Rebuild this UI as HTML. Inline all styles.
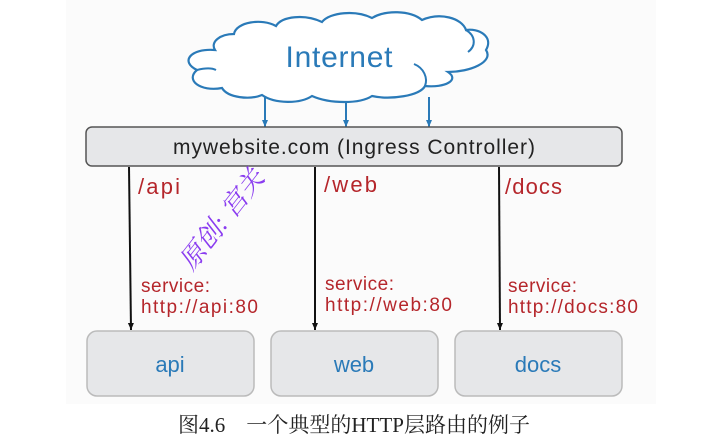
<!DOCTYPE html>
<html><head><meta charset="utf-8"><style>
html,body{margin:0;padding:0;background:#fff;}
svg{display:block;}
</style></head><body>
<svg width="709" height="444" viewBox="0 0 709 444" xmlns="http://www.w3.org/2000/svg">
<defs>
<marker id="ab" markerWidth="8" markerHeight="8" refX="7" refY="4" orient="auto" markerUnits="userSpaceOnUse"><path d="M0,1 L7,4 L0,7 Z" fill="#2a7ab8"/></marker>
<marker id="ak" markerWidth="8" markerHeight="8" refX="7" refY="4" orient="auto" markerUnits="userSpaceOnUse"><path d="M0,1 L7,4 L0,7 Z" fill="#111"/></marker>
</defs>
<rect x="66" y="0" width="590" height="404" fill="#fbfbfb"/>
<path d="M215,50 C190,48 180,62 197,70 C185,80 200,92 222,88 C228,98 250,100 262,95 C275,104 300,104 312,96 C330,104 360,104 372,96 C390,100 420,96 425,86 C445,88 460,80 448,72 C470,72 494,62 486,50 C494,36 478,28 466,30 C462,18 440,12 422,20 C410,10 385,10 372,18 C356,10 330,12 322,22 C305,14 282,16 276,26 C262,18 236,22 234,34 C220,34 210,42 215,50 Z" fill="#fff" stroke="#2a7ab8" stroke-width="2.2"/>
<path d="M466,30 C476,36 476,46 468,52" fill="none" stroke="#2a7ab8" stroke-width="2"/>
<path d="M425,86 C428,78 424,68 414,64" fill="none" stroke="#2a7ab8" stroke-width="2"/>
<path d="M197,70 C205,68 212,68 216,70" fill="none" stroke="#2a7ab8" stroke-width="2"/>
<text x="339" y="67" text-anchor="middle" font-family="Liberation Sans, sans-serif" font-size="30" fill="#2a7ab8" textLength="107">Internet</text>
<line x1="265" y1="97" x2="265" y2="127" stroke="#2a7ab8" stroke-width="2" marker-end="url(#ab)"/>
<line x1="346" y1="102" x2="346" y2="127" stroke="#2a7ab8" stroke-width="2" marker-end="url(#ab)"/>
<line x1="429" y1="97" x2="429" y2="127" stroke="#2a7ab8" stroke-width="2" marker-end="url(#ab)"/>
<rect x="86" y="127" width="536" height="39" rx="6" fill="#e6e7e9" stroke="#555" stroke-width="1.5"/>
<text x="354" y="154" text-anchor="middle" font-family="Liberation Sans, sans-serif" font-size="21" fill="#222" textLength="362">mywebsite.com (Ingress Controller)</text>
<g stroke="#111" stroke-width="2">
<line x1="129" y1="167" x2="131" y2="330" marker-end="url(#ak)"/>
<line x1="315" y1="167" x2="315" y2="330" marker-end="url(#ak)"/>
<line x1="499" y1="167" x2="500" y2="330" marker-end="url(#ak)"/>
</g>
<g font-family="Liberation Sans, sans-serif" fill="#b5262b">
<text x="138" y="194" font-size="22" textLength="42">/api</text>
<text x="324" y="192" font-size="22" textLength="53">/web</text>
<text x="505" y="194" font-size="22" textLength="57">/docs</text>
<text x="141" y="292" font-size="19" textLength="69">service:</text>
<text x="141" y="313" font-size="19" textLength="117">http://api:80</text>
<text x="325" y="290" font-size="19" textLength="69">service:</text>
<text x="325" y="311" font-size="19" textLength="127">http://web:80</text>
<text x="508" y="292" font-size="19" textLength="69">service:</text>
<text x="508" y="313" font-size="19" textLength="130">http://docs:80</text>
</g>
<g fill="#e6e7e9" stroke="#bbb" stroke-width="1.5">
<rect x="87" y="331" width="167" height="65" rx="10"/>
<rect x="271" y="331" width="167" height="65" rx="10"/>
<rect x="455" y="331" width="167" height="65" rx="10"/>
</g>
<g font-family="Liberation Sans, sans-serif" font-size="22" fill="#2a7ab8" text-anchor="middle">
<text x="170" y="372">api</text>
<text x="354" y="372">web</text>
<text x="538" y="372">docs</text>
</g>
<text x="0" y="0" transform="translate(192,272) rotate(-52)" font-family="Liberation Serif, 'Noto Serif CJK SC', serif" font-size="26" fill="#8a3cf0" font-style="italic">原创: 宫关</text>
<text x="354" y="432" text-anchor="middle" font-family="Liberation Serif, 'Noto Serif CJK SC', serif" font-size="21" fill="#222" textLength="352">图4.6　一个典型的HTTP层路由的例子</text>
</svg>
</body></html>
